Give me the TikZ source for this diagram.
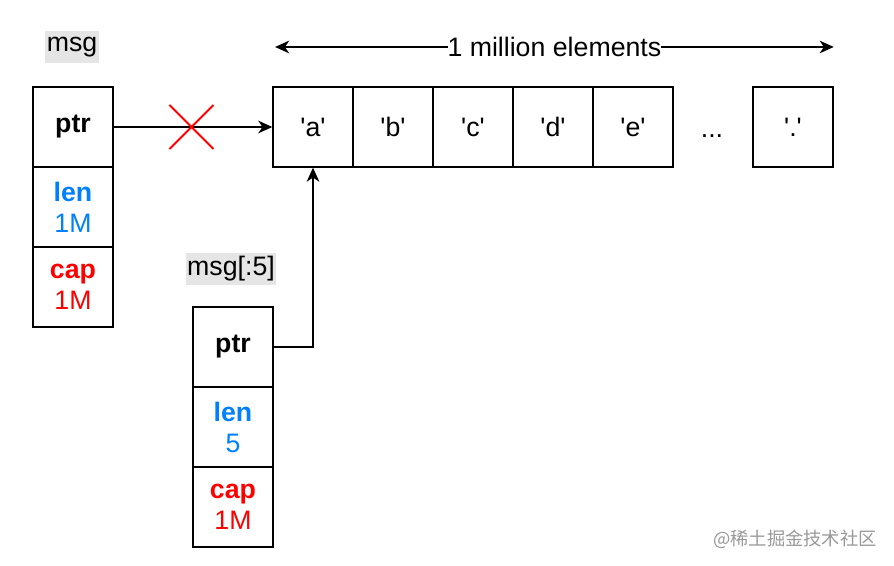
\documentclass[tikz,border=0pt]{standalone}
\usepackage{fontspec}
\setmainfont{Liberation Sans}
\newfontfamily\cjk{Noto Sans CJK SC}
\usetikzlibrary{arrows.meta,shapes.misc}
\definecolor{lenblue}{RGB}{0,127,255}
\definecolor{capred}{RGB}{255,0,0}
\newcommand{\cellfont}{\fontsize{19pt}{22pt}\selectfont}
\newcommand{\chr}[1]{\textquotesingle#1\textquotesingle}

\begin{document}
\begin{tikzpicture}[line width=1pt, >={Stealth[length=10pt,width=9pt,inset=3pt]},
  cell/.style={draw, minimum size=2cm, inner sep=0pt, align=center, font=\cellfont},
  tag/.style={fill=black!10, inner xsep=1pt, inner ysep=0pt, minimum height=0.78cm, font=\cellfont},
  cut/.style={cross out, draw=capred, line width=1.4pt, inner sep=0pt, minimum size=1.05cm}]
\useasboundingbox (0,0) rectangle (22.35,14.15);

% msg
\node[tag] (msg) at (1.8,12.975) {msg};
\node[cell] (msg-ptr) at (1.825,10.975) {\textbf{ptr}};
\node[cell, text=lenblue] (msg-len) at (1.825,8.975) {\textbf{len}\\1M};
\node[cell, text=capred] (msg-cap) at (1.825,6.975) {\textbf{cap}\\1M};

% backing array
\node[cell] (a) at (7.825,10.975) {\chr{a}};
\node[cell] (b) at (9.825,10.975) {\chr{b}};
\node[cell] (c) at (11.825,10.975) {\chr{c}};
\node[cell] (d) at (13.825,10.975) {\chr{d}};
\node[cell] (e) at (15.825,10.975) {\chr{e}};
\node[font=\cellfont, anchor=base] (more) at (17.8,10.7) {.\kern0pt.\kern0pt.};
\node[cell] (last) at (19.825,10.975) {\chr{.}};

\draw[<->] ([xshift=2pt] a.west|-msg) --
node[fill=white, inner sep=0pt, font=\cellfont] (count) {1 million elements}
(last.east|-msg);

% msg[:5]
\node[tag] (sub) at (5.775,7.425) {msg[:5]};
\node[cell] (sub-ptr) at (5.825,5.475) {\textbf{ptr}};
\node[cell, text=lenblue] (sub-len) at (5.825,3.475) {\textbf{len}\\5};
\node[cell, text=capred] (sub-cap) at (5.825,1.475) {\textbf{cap}\\1M};

\draw[->] (msg-ptr) -- node[pos=0.49, cut] (x) {} (a);
\draw[->] (sub-ptr.east) -| (a.south);

\node[text=black!40, font=\fontsize{13pt}{15pt}\cjk] (mark) at (19.875,0.675) {@稀土掘金技术社区};

\end{tikzpicture}
\end{document}
